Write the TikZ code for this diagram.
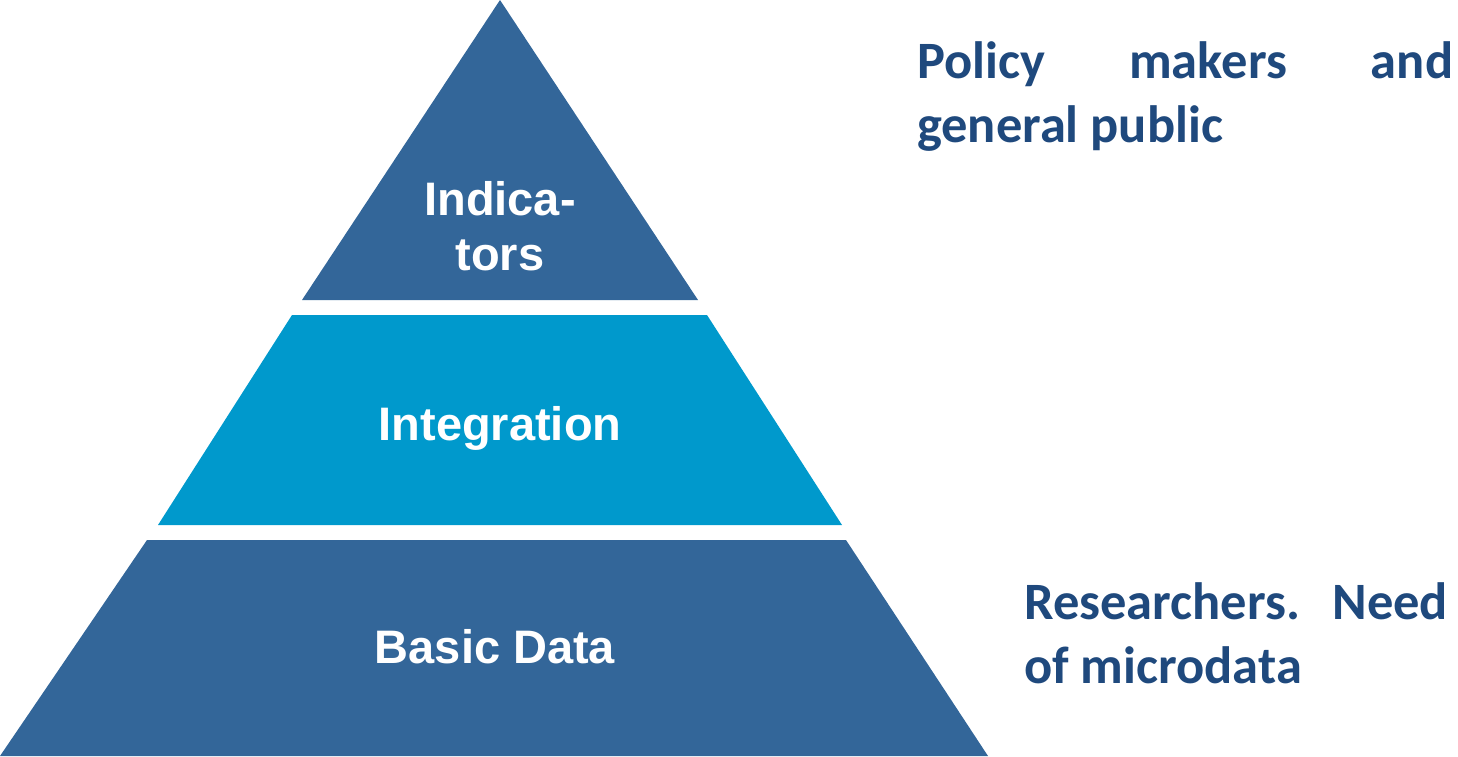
\documentclass[tikz,border=0pt]{standalone}
\usepackage{fontspec}
\setmainfont{Liberation Sans}
\newfontfamily\sidefont{Carlito}
\usepackage{xcolor}
\usepackage{tikz}
\usetikzlibrary{positioning}
\definecolor{layerdark}{HTML}{336699}
\definecolor{layerlight}{HTML}{0099CC}
\definecolor{sidetext}{HTML}{1F497D}

\begin{document}
\begin{tikzpicture}[
                x=1pt, y=-1pt,
                layerlabel/.style={text=white, inner sep=0pt, anchor=base, align=center, font=\bfseries\fontsize{47}{55}\selectfont},
                sidenote/.style={text=sidetext, inner sep=0pt, anchor=base west, align=left, font=\sidefont\bfseries\fontsize{52.5}{63.5}\selectfont}
            ]
                \useasboundingbox (0,0) rectangle (1458,756);

                % pyramid layers
                \fill[layerdark] (500,0) -- (698,300) -- (302,300) -- cycle;
                \fill[layerlight] (292,315) -- (707,315) -- (842,525) -- (158,525) -- cycle;
                \fill[layerdark] (147,540) -- (846,540) -- (988,756) -- (0,756) -- cycle;

                % base anchor sits on the last line
                \node[layerlabel] (indicators) at (500,270) {Indica-\\tors};
                \node[layerlabel] (integration) at (500,440) {Integration};
                \node[layerlabel] (basic) at (495,663) {Basic Data};

                % audiences
                \node[sidenote] (policy) at (917,142) {\makebox[536pt][s]{Policy makers and}\\general public};
                \node[sidenote] (research) at (1024,683) {\makebox[424pt][s]{Researchers. Need}\\of microdata};
            \end{tikzpicture}
\end{document}
